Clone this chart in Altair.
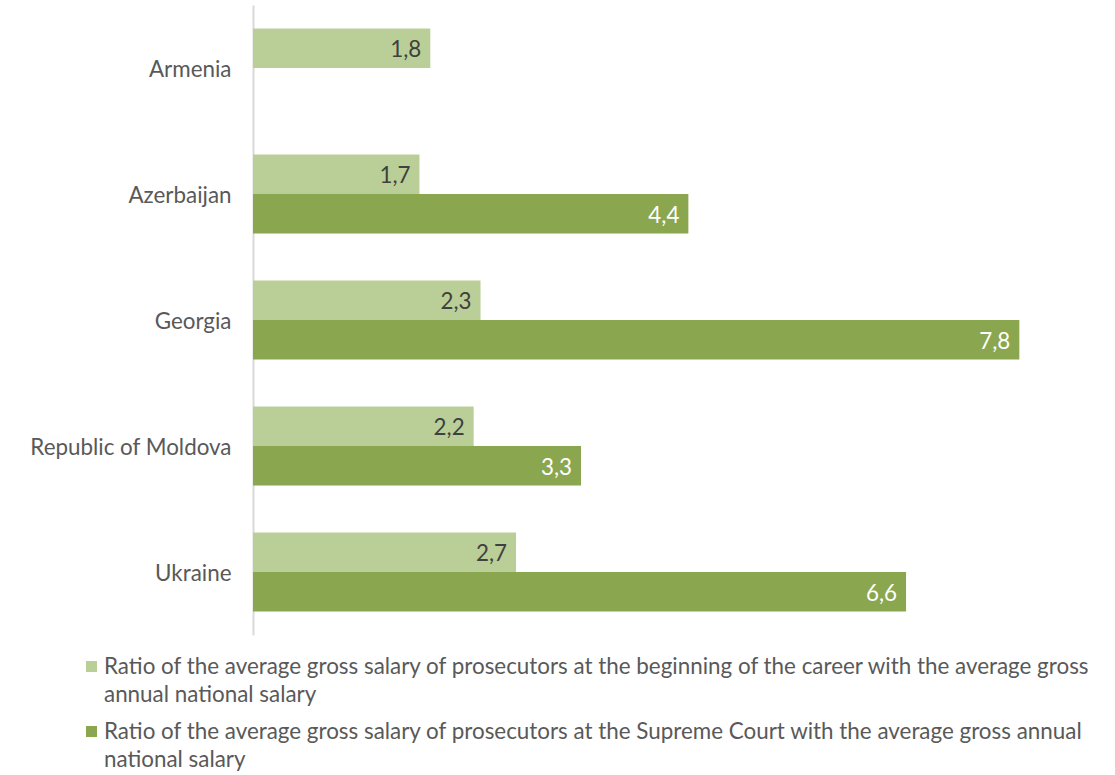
import altair as alt
import pandas as pd

countries = ["Armenia", "Azerbaijan", "Georgia", "Republic of Moldova", "Ukraine"]
series = ["Beginning of career", "Supreme Court"]
beginning = [1.80, 1.69, 2.31, 2.24, 2.67]
supreme = [None, 4.42, 7.78, 3.33, 6.63]
legend_lines = [
    ["Ratio of the average gross salary of prosecutors at the beginning of the career with the average gross",
     "annual national salary"],
    ["Ratio of the average gross salary of prosecutors at the Supreme Court with the average gross annual",
     "national salary"],
]
colors = ["#b9cf97", "#8aa64e"]

FONT = "Lato"
FS = 22.4

rows = []
for c, b, s in zip(countries, beginning, supreme):
    if b is not None:
        rows.append({"country": c, "series": series[0], "value": b})
    if s is not None:
        rows.append({"country": c, "series": series[1], "value": s})
df = pd.DataFrame(rows)

W, H = 800, 630
y_enc = alt.Y("country:N", sort=countries,
              scale=alt.Scale(paddingInner=0.373, paddingOuter=0.1865),
              axis=alt.Axis(title=None, ticks=False, labelFontSize=FS, labelFont=FONT,
                            labelColor="#595959", labelPadding=22, labelLimit=400,
                            labelOffset=2,
                            domainColor="#d9d9d9", domainWidth=2))
x_enc = alt.X("value:Q", scale=alt.Scale(domain=[0, W / 98.5]), axis=None)
yoff = alt.YOffset("series:N", sort=series, scale=alt.Scale(paddingInner=0, paddingOuter=0))

base = alt.Chart(df)
bars = base.mark_bar().encode(
    x=x_enc, y=y_enc, yOffset=yoff,
    color=alt.Color("series:N", scale=alt.Scale(domain=series, range=colors), legend=None),
)
labels = base.transform_calculate(
    label="replace(format(datum.value, '.1f'), '.', ',')"
).mark_text(align="right", baseline="middle", dx=-9, dy=2, fontSize=FS, font=FONT).encode(
    x=x_enc, y=y_enc, yOffset=yoff, text="label:N",
    color=alt.condition(alt.datum.series == series[1], alt.value("#ffffff"), alt.value("#404040")),
)

layers = [bars, labels]
leg_df = pd.DataFrame({"series": series})
line_y = [[662, 690], [727, 755]]
for i, lines in enumerate(legend_lines):
    sq = alt.Chart(leg_df).transform_filter(alt.datum.series == series[i]).mark_rect(
        color=colors[i]).encode(
        x=alt.value(-167), x2=alt.value(-156),
        y=alt.value(line_y[i][0] - 6), y2=alt.value(line_y[i][0] + 5))
    layers.append(sq)
    for j, ln in enumerate(lines):
        t = alt.Chart(leg_df).transform_filter(alt.datum.series == series[i]).mark_text(
            align="left", baseline="middle", fontSize=FS, font=FONT, color="#595959").encode(
            x=alt.value(-149), y=alt.value(line_y[i][j]), text=alt.value(ln))
        layers.append(t)

chart = alt.layer(*layers).properties(
    width=W, height=H,
    background="white",
    autosize=alt.AutoSizeParams(type="none"),
    padding={"left": 253, "top": 5, "right": 62, "bottom": 140},
).configure_view(strokeWidth=0, stroke=None)

chart.save("out.html", embed_options={"renderer": "svg", "actions": False})
